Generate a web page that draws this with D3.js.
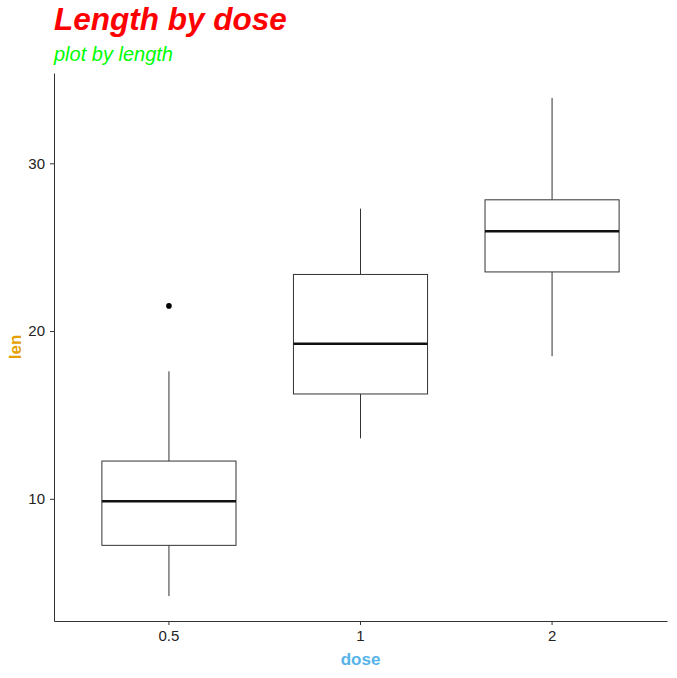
<!DOCTYPE html>
<html><head><meta charset="utf-8">
<script src="https://cdn.jsdelivr.net/npm/d3@7"></script>
<style>body{margin:0;background:#fff}svg{display:block}text{font-family:"Liberation Sans",Arial,sans-serif}.tick text{font-size:15px !important}</style>
</head><body>
<script>
const doses = ["0.5", "1", "2"];
const lowerWhisker = [4.2, 13.6, 18.5];
const q1 = [7.225, 16.25, 23.525];
const median = [9.85, 19.25, 25.95];
const q3 = [12.25, 23.375, 27.825];
const upperWhisker = [17.6, 27.3, 33.9];
const outliers = [[21.5], [], []];
const yTicks = [10, 20, 30];

const W = 677, H = 678;
const m = {left: 54, right: 10, top: 73, bottom: 57};
const svg = d3.select("body").append("svg").attr("width", W).attr("height", H);

const x = d3.scaleBand().domain(doses).range([m.left, W - m.right]).paddingOuter(0.1).paddingInner(0);
const y = d3.scaleLinear().domain([2.715, 35.385]).range([H - m.bottom, m.top]);
const bw = x.bandwidth() * 0.7;

const g = svg.append("g");
doses.forEach((d, i) => {
  const cx = x(d) + x.bandwidth() / 2;
  g.append("line").attr("x1", cx).attr("x2", cx).attr("y1", y(q3[i])).attr("y2", y(upperWhisker[i])).attr("stroke", "#333").attr("stroke-width", 1);
  g.append("line").attr("x1", cx).attr("x2", cx).attr("y1", y(q1[i])).attr("y2", y(lowerWhisker[i])).attr("stroke", "#333").attr("stroke-width", 1);
  g.append("rect").attr("x", cx - bw / 2).attr("y", y(q3[i])).attr("width", bw).attr("height", y(q1[i]) - y(q3[i]))
    .attr("fill", "#fff").attr("stroke", "#333").attr("stroke-width", 1);
  g.append("line").attr("x1", cx - bw / 2).attr("x2", cx + bw / 2).attr("y1", y(median[i])).attr("y2", y(median[i])).attr("stroke", "#111").attr("stroke-width", 2.5);
  outliers[i].forEach(v => {
    g.append("circle").attr("cx", cx).attr("cy", y(v)).attr("r", 2.8).attr("fill", "#000");
  });
});

const xa = svg.append("g").attr("transform", `translate(0,${H - m.bottom})`)
  .call(d3.axisBottom(x).tickSize(4).tickPadding(5).tickSizeOuter(0));
const ya = svg.append("g").attr("transform", `translate(${m.left},0)`)
  .call(d3.axisLeft(y).tickValues(yTicks).tickSize(4).tickPadding(5).tickSizeOuter(0));
[xa, ya].forEach(a => {
  a.attr("font-size", 15).attr("font-family", '"Liberation Sans",Arial,sans-serif');
  a.select(".domain").attr("stroke", "#333").attr("stroke-width", 1);
  a.selectAll(".tick line").attr("stroke", "#333");
  a.selectAll(".tick text").attr("fill", "#222");
});

svg.append("text").attr("x", 54).attr("y", 30).text("Length by dose")
  .attr("fill", "#ff0000").style("font-size", "31.5px").style("font-weight", "bold").style("font-style", "italic");
svg.append("text").attr("x", 54).attr("y", 61).text("plot by length")
  .attr("fill", "#00ff00").style("font-size", "20px").style("font-style", "italic");
svg.append("text").attr("x", (m.left + W - m.right) / 2).attr("y", 665).attr("text-anchor", "middle").text("dose")
  .attr("fill", "#56B4E9").style("font-size", "17px").style("font-weight", "bold");
svg.append("text").attr("transform", `translate(21,${(m.top + H - m.bottom) / 2}) rotate(-90)`).attr("text-anchor", "middle").text("len")
  .attr("fill", "#E69F00").style("font-size", "17px").style("font-weight", "bold");
</script>
</body></html>
